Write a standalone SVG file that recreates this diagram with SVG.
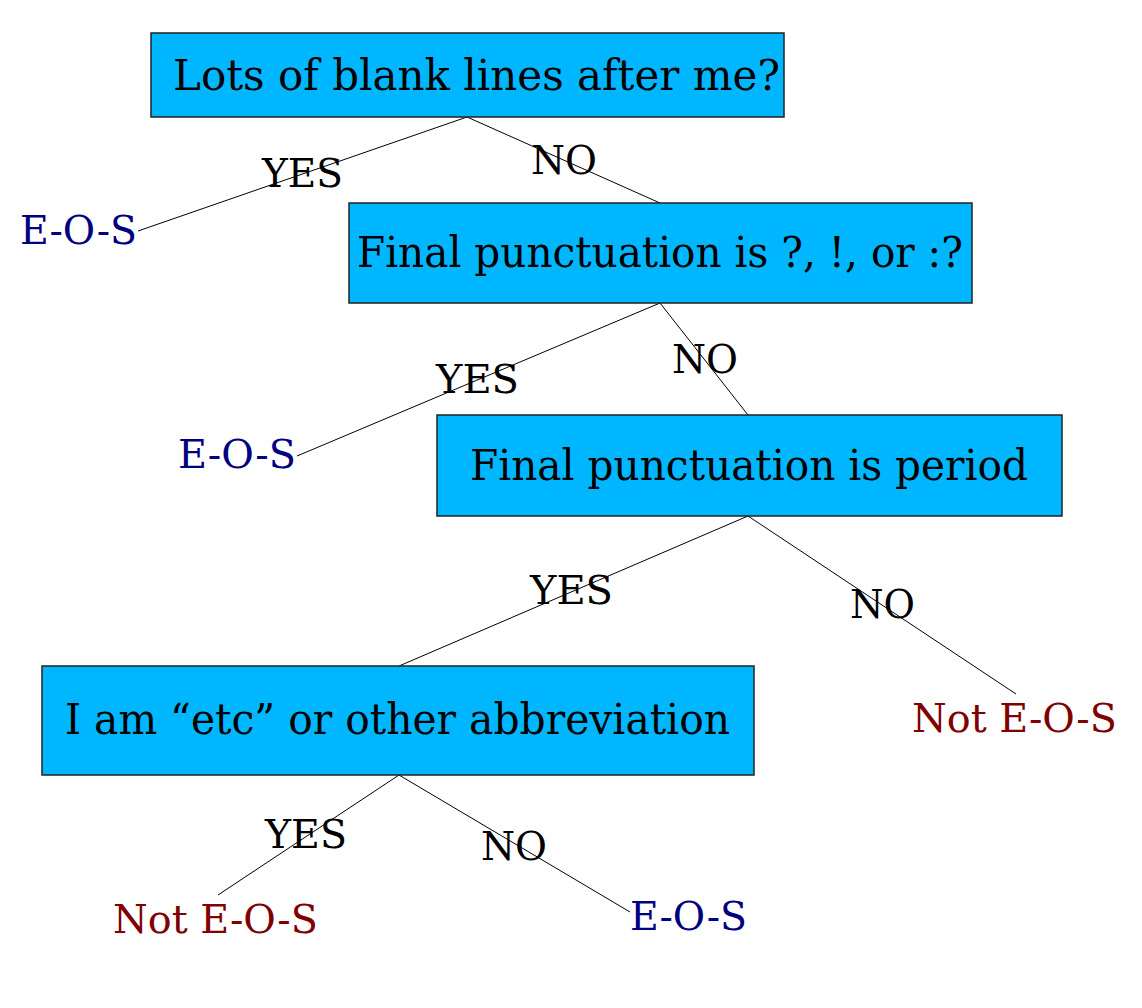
<svg xmlns="http://www.w3.org/2000/svg" width="1142" height="1008" viewBox="0 0 1142 1008">
<style>
.box{fill:#00b7ff;stroke:#222;stroke-width:1.5}
.bt{font-family:"DejaVu Serif",serif;font-size:42px;fill:#000}
.lb{font-family:"DejaVu Serif",serif;font-size:40px;fill:#000}
.eos{font-family:"DejaVu Serif",serif;font-size:40px;fill:#000080}
.not{font-family:"DejaVu Serif",serif;font-size:40px;fill:#800000}
.c line{stroke:#000;stroke-width:1}
</style>
<rect width="1142" height="1008" fill="#fff"/>
<g class="c" id="connectors">
<line x1="467" y1="117" x2="138" y2="231"/>
<line x1="467" y1="117" x2="660" y2="203"/>
<line x1="660" y1="303" x2="297" y2="456"/>
<line x1="660" y1="303" x2="748" y2="415"/>
<line x1="748" y1="516" x2="399" y2="666"/>
<line x1="748" y1="516" x2="1016" y2="694"/>
<line x1="399" y1="775" x2="218" y2="895"/>
<line x1="399" y1="775" x2="630" y2="912"/>
</g>
<g id="n1"><rect class="box" x="151" y="33" width="633" height="84"/><text class="bt" x="173" y="90" textLength="607" lengthAdjust="spacingAndGlyphs">Lots of blank lines after me?</text></g>
<g id="n2"><rect class="box" x="349" y="203" width="623" height="100"/><text class="bt" x="357" y="267" textLength="606" lengthAdjust="spacingAndGlyphs">Final punctuation is ?, !, or :?</text></g>
<g id="n3"><rect class="box" x="437" y="415" width="625" height="101"/><text class="bt" x="470" y="480" textLength="558" lengthAdjust="spacingAndGlyphs">Final punctuation is period</text></g>
<g id="n4"><rect class="box" x="42" y="666" width="712" height="109"/><text class="bt" x="65" y="734" textLength="665" lengthAdjust="spacingAndGlyphs">I am “etc” or other abbreviation</text></g>
<g id="labels">
<text class="lb" x="262" y="187" textLength="81" lengthAdjust="spacingAndGlyphs">YES</text>
<text class="lb" x="531" y="174" textLength="66" lengthAdjust="spacingAndGlyphs">NO</text>
<text class="lb" x="436" y="393" textLength="83" lengthAdjust="spacingAndGlyphs">YES</text>
<text class="lb" x="672" y="373" textLength="66" lengthAdjust="spacingAndGlyphs">NO</text>
<text class="lb" x="530" y="604" textLength="83" lengthAdjust="spacingAndGlyphs">YES</text>
<text class="lb" x="850" y="618" textLength="65" lengthAdjust="spacingAndGlyphs">NO</text>
<text class="lb" x="265" y="848" textLength="82" lengthAdjust="spacingAndGlyphs">YES</text>
<text class="lb" x="481" y="860" textLength="66" lengthAdjust="spacingAndGlyphs">NO</text>
</g>
<g id="leaf1"><text class="eos" x="20" y="244" textLength="117" lengthAdjust="spacingAndGlyphs">E-O-S</text></g>
<g id="leaf2"><text class="eos" x="178" y="468" textLength="118" lengthAdjust="spacingAndGlyphs">E-O-S</text></g>
<g id="leaf3"><text class="not" x="912" y="732" textLength="205" lengthAdjust="spacingAndGlyphs">Not E-O-S</text></g>
<g id="leaf4"><text class="not" x="113" y="933" textLength="205" lengthAdjust="spacingAndGlyphs">Not E-O-S</text></g>
<g id="leaf5"><text class="eos" x="630" y="930" textLength="117" lengthAdjust="spacingAndGlyphs">E-O-S</text></g>
</svg>
